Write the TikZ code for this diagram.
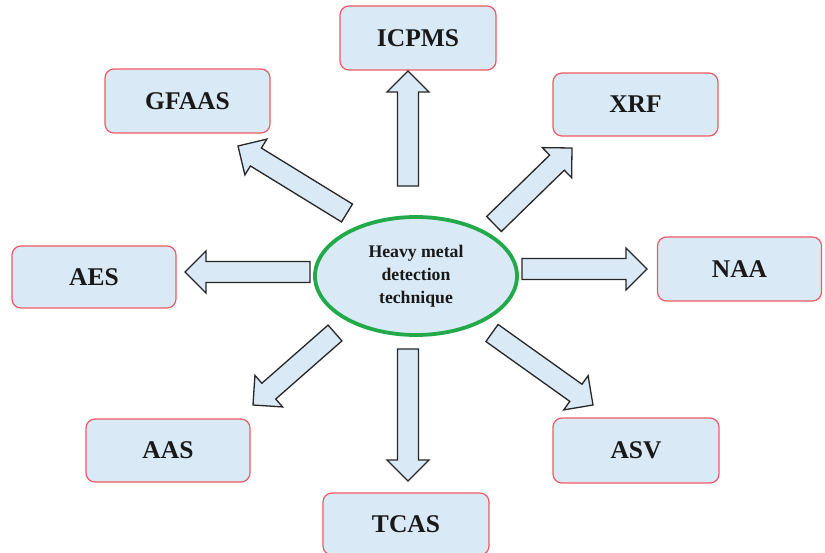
\documentclass[tikz,border=0pt]{standalone}
\usepackage{fontspec}
\setmainfont{Liberation Serif}
\usetikzlibrary{calc,shapes.geometric}
\definecolor{boxfill}{HTML}{DAE9F6}
\definecolor{boxline}{HTML}{EE5A64}
\definecolor{ringline}{HTML}{22AA4A}
\tikzset{
  method/.style={draw=boxline, line width=1.2pt, fill=boxfill, rounded corners=9pt,
    minimum width=164pt, minimum height=63pt, inner sep=0pt,
    font=\bfseries\fontsize{25.5}{29}\selectfont, text=black!90},
  hub/.style={ellipse, draw=ringline, line width=3.8pt, fill=boxfill,
    minimum width=202pt, minimum height=118pt, inner sep=0pt, align=center,
    font=\bfseries\fontsize{17.7}{23}\selectfont, text=black!90},
  blockarrow/.style={draw=black!85, line width=1.3pt, fill=boxfill, line join=miter}
}
\newcommand\blockarr[2]{%
  \coordinate (hb) at ($(#2)!21pt!(#1)$);
  \draw[blockarrow] ($(#1)!10.5pt!90:(#2)$) -- ($(hb)!10.5pt!90:(#2)$)
    -- ($(hb)!21pt!90:(#2)$) -- (#2) -- ($(hb)!21pt!-90:(#2)$)
    -- ($(hb)!10.5pt!-90:(#2)$) -- ($(#1)!10.5pt!-90:(#2)$) -- cycle;}
\begin{document}
\begin{tikzpicture}[x=1pt,y=-1pt]
\useasboundingbox[fill=white] (0,0) rectangle (825,553);
% boxes
\node[method, minimum width=156pt, minimum height=64pt] (icpms) at (418,38) {ICPMS};
\node[method, minimum width=165pt, minimum height=64pt] (gfaas) at (187.5,101) {GFAAS};
\node[method, minimum width=165pt, minimum height=63pt] (xrf) at (635.5,104.5) {XRF};
\node[method, minimum width=164pt, minimum height=62pt] (aes) at (94,277) {AES};
\node[method, minimum width=164pt, minimum height=64pt] (naa) at (739.5,269) {NAA};
\node[method, minimum width=164pt, minimum height=63pt] (aas) at (168,450.5) {AAS};
\node[method, minimum width=166pt, minimum height=65pt] (asv) at (636,450.5) {ASV};
\node[method, minimum width=166pt, minimum height=62pt] (tcas) at (406,524) {TCAS};
% hub
\node[hub] (hub) at (416,276) {Heavy metal\\detection\\technique};
% arrow endpoints
\coordinate (tU) at (408,186);   \coordinate (hU) at (408,71);
\coordinate (tD) at (408,349);   \coordinate (hD) at (408,481);
\coordinate (tL) at (310,272);   \coordinate (hL) at (185,272);
\coordinate (tR) at (522,269);   \coordinate (hR) at (647,269);
\coordinate (tUL) at (347,213);  \coordinate (hUL) at (238,146);
\coordinate (tUR) at (494,224);  \coordinate (hUR) at (572,148);
\coordinate (tDL) at (335,333);  \coordinate (hDL) at (253,405);
\coordinate (tDR) at (492,333);  \coordinate (hDR) at (593,405);
\blockarr{tU}{hU}
\blockarr{tD}{hD}
\blockarr{tL}{hL}
\blockarr{tR}{hR}
\blockarr{tUL}{hUL}
\blockarr{tUR}{hUR}
\blockarr{tDL}{hDL}
\blockarr{tDR}{hDR}
\end{tikzpicture}
\end{document}
